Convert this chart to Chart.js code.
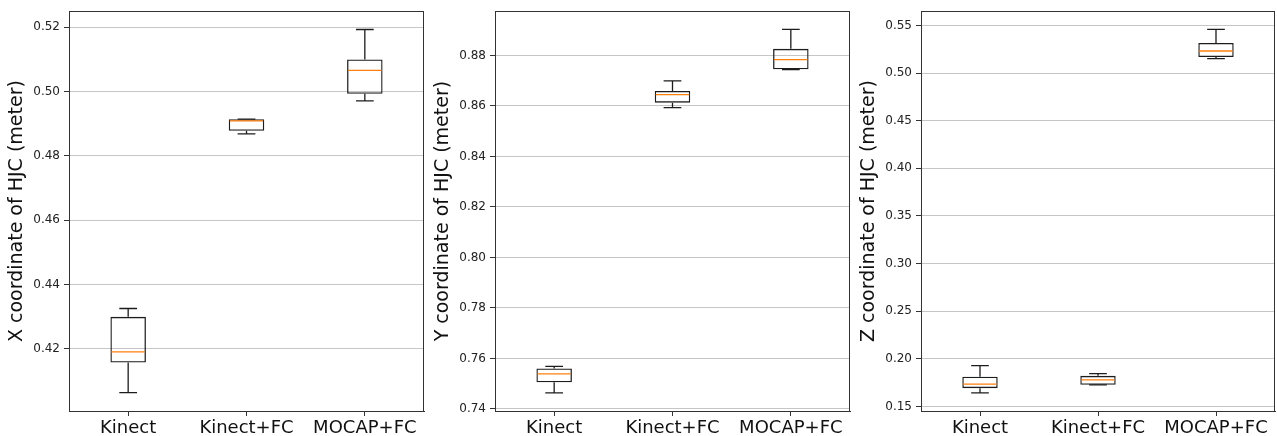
<!DOCTYPE html>
<html>
<head>
<meta charset="utf-8">
<script src="https://cdn.jsdelivr.net/npm/chart.js@4/dist/chart.umd.min.js"></script>
<style>
    html, body { margin: 0; padding: 0; background: #ffffff; }
    .panel { position: absolute; top: 0; height: 436px; }
</style>
</head>
<body>
<div class="panel" style="left: 0px; width: 426px;"><canvas id="graph_x"></canvas></div>
<div class="panel" style="left: 426px; width: 426px;"><canvas id="graph_y"></canvas></div>
<div class="panel" style="left: 852px; width: 425px;"><canvas id="graph_z"></canvas></div>
<script>

var CATEGORIES                                              = ['Kinect', 'Kinect+FC', 'MOCAP+FC'];

// X coordinate: whisker low, Q1, median, Q3, whisker high
var X_MIN                                                   = [0.4063, 0.4868, 0.4971];
var X_Q1                                                    = [0.4157, 0.4878, 0.4993];
var X_MEDIAN                                                = [0.4190, 0.4909, 0.5066];
var X_Q3                                                    = [0.4299, 0.4914, 0.5100];
var X_MAX                                                   = [0.4325, 0.4914, 0.5193];
var X_TICKS                                                 = [0.42, 0.44, 0.46, 0.48, 0.50, 0.52];
var X_RANGE                                                 = [0.4006, 0.5250];

// Y coordinate
var Y_MIN                                                   = [0.7464, 0.8593, 0.8744];
var Y_Q1                                                    = [0.7506, 0.8613, 0.8745];
var Y_MEDIAN                                                = [0.7539, 0.8645, 0.8783];
var Y_Q3                                                    = [0.7560, 0.8659, 0.8826];
var Y_MAX                                                   = [0.7569, 0.8699, 0.8903];
var Y_TICKS                                                 = [0.74, 0.76, 0.78, 0.80, 0.82, 0.84, 0.86, 0.88];
var Y_RANGE                                                 = [0.7392, 0.8975];

// Z coordinate
var Z_MIN                                                   = [0.1643, 0.1726, 0.5151];
var Z_Q1                                                    = [0.1692, 0.1727, 0.5168];
var Z_MEDIAN                                                = [0.1734, 0.1779, 0.5231];
var Z_Q3                                                    = [0.1811, 0.1821, 0.5315];
var Z_MAX                                                   = [0.1929, 0.1845, 0.5458];
var Z_TICKS                                                 = [0.15, 0.20, 0.25, 0.30, 0.35, 0.40, 0.45, 0.50, 0.55];
var Z_RANGE                                                 = [0.1452, 0.5649];

var COLOR_LINE                                              = '#1c1c1c';
var COLOR_MEDIAN                                            = '#ff7f0e';

Chart.defaults.font.family                                  = 'DejaVu Sans';



function graph_draw() {

    graph_create(document.getElementById('graph_x'), 'X coordinate of HJC (meter)',
        { min: X_MIN, q1: X_Q1, median: X_MEDIAN, q3: X_Q3, max: X_MAX }, X_TICKS, X_RANGE);

    graph_create(document.getElementById('graph_y'), 'Y coordinate of HJC (meter)',
        { min: Y_MIN, q1: Y_Q1, median: Y_MEDIAN, q3: Y_Q3, max: Y_MAX }, Y_TICKS, Y_RANGE);

    graph_create(document.getElementById('graph_z'), 'Z coordinate of HJC (meter)',
        { min: Z_MIN, q1: Z_Q1, median: Z_MEDIAN, q3: Z_Q3, max: Z_MAX }, Z_TICKS, Z_RANGE);
}



function graph_create(canvas, title, stats, ticks, range) {

    var boxes = stats.q1.map(function(q1, i) { return [q1, stats.q3[i]]; });

    return new Chart(canvas, {
        type: 'bar',
        data: {
            labels: CATEGORIES,
            datasets: [
                {
                    data: boxes,
                    backgroundColor: 'rgba(0,0,0,0)',
                    borderColor: COLOR_LINE,
                    borderWidth: 1.3,
                    borderSkipped: false,
                    barPercentage: 0.3,
                    categoryPercentage: 1,
                },
            ]
        },
        options: graph_options(title, ticks, range),
        plugins: [graph_plugin_whiskers(stats)],
    });
}



function graph_options(title, ticks, range) {

    return {
        animation: false,
        responsive: true,
        maintainAspectRatio: false,
        layout: {
            padding: { top: 10, right: 2, bottom: 0, left: 0 }
        },
        plugins: {
            legend: { display: false },
            tooltip: { enabled: false }
        },
        scales: {
            x: {
                offset: true,
                afterFit: function(scale) { scale.height = 25; },
                ticks: {
                    color: '#111111',
                    padding: 2,
                    maxRotation: 0,
                    autoSkip: false,
                    font: { size: 18 }
                },
                grid: {
                    offset: false,
                    drawOnChartArea: false,
                    tickColor: '#333333',
                    tickLength: 5,
                },
                border: { color: '#333333', width: 1 }
            },
            y: {
                min: range[0],
                max: range[1],
                afterFit: function(scale) { scale.width = 69; },
                afterBuildTicks: function(scale) {
                    scale.ticks = ticks.map(function(v) { return { value: v }; });
                },
                ticks: {
                    color: '#222222',
                    padding: 4,
                    font: { size: 12 },
                    callback: function(value) { return value.toFixed(2); }
                },
                grid: {
                    color: '#c6c6c6',
                    lineWidth: 1,
                    tickColor: '#333333',
                    tickLength: 5,
                },
                border: { color: '#333333', width: 1 },
                title: {
                    display: true,
                    text: title,
                    color: '#111111',
                    font: { size: 19 },
                    padding: { top: 6, bottom: 0 }
                }
            }
        }
    };
}



/**-- Whiskers, caps, medians and frame --**/

function graph_plugin_whiskers(stats) {

    return {
        id: 'whiskers',
        afterDatasetsDraw: function(chart) {

            var ctx   = chart.ctx;
            var y     = chart.scales.y;
            var meta  = chart.getDatasetMeta(0);

            ctx.save();
            ctx.lineWidth = 1.3;

            meta.data.forEach(function(bar, i) {

                var x    = bar.x;
                var half = bar.width / 2;
                var cap  = half / 2;

                ctx.strokeStyle = COLOR_LINE;
                ctx.beginPath();
                ctx.moveTo(x, y.getPixelForValue(stats.q3[i]));
                ctx.lineTo(x, y.getPixelForValue(stats.max[i]));
                ctx.moveTo(x - cap, y.getPixelForValue(stats.max[i]));
                ctx.lineTo(x + cap, y.getPixelForValue(stats.max[i]));
                ctx.moveTo(x, y.getPixelForValue(stats.q1[i]));
                ctx.lineTo(x, y.getPixelForValue(stats.min[i]));
                ctx.moveTo(x - cap, y.getPixelForValue(stats.min[i]));
                ctx.lineTo(x + cap, y.getPixelForValue(stats.min[i]));
                ctx.stroke();

                ctx.strokeStyle = COLOR_MEDIAN;
                ctx.beginPath();
                ctx.moveTo(x - half + 1, y.getPixelForValue(stats.median[i]));
                ctx.lineTo(x + half - 1, y.getPixelForValue(stats.median[i]));
                ctx.stroke();
            });

            var area = chart.chartArea;
            ctx.strokeStyle = '#333333';
            ctx.lineWidth = 1;
            ctx.strokeRect(Math.round(area.left) + 0.5, Math.round(area.top) + 0.5,
                Math.round(area.right - area.left) - 1, Math.round(area.bottom - area.top));
            ctx.restore();
        }
    };
}



graph_draw();

</script>
</body>
</html>
